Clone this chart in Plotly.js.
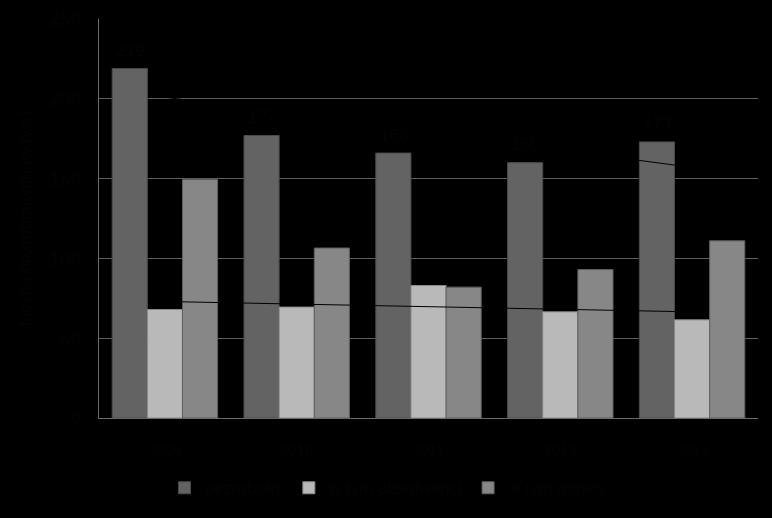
<!DOCTYPE html>
<html>
<head>
<meta charset="utf-8">
<script src="https://cdn.plot.ly/plotly-3.0.1.min.js"></script>
<style>html,body{margin:0;padding:0;background:#000;}</style>
</head>
<body>
<div id="chart" style="width:772px;height:518px;"></div>
<script>
const years = ['2009', '2010', '2011', '2012', '2013'];
const seriesNames = ['bezrobotni', 'w tym absolwenci', 'w tym rolnicy'];
const totalVals = [219, 177, 166, 160, 173];
const secondVals = [68, 69.5, 83, 66.5, 61.5];
const thirdVals = [149.5, 106.5, 82, 93, 111];
// trendline endpoints (first and last year)
const trendYears = ['2009', '2013'];
const totalTrend = [201, 157];
const secondTrend = [73, 66.5];
const yTicks = [0, 50, 100, 150, 200, 250];

const txt = '#040404';
const fam = 'Liberation Sans, Arial, sans-serif';

const traces = [
  {type: 'bar', name: seriesNames[0], x: years, y: totalVals,
   marker: {color: '#636363', line: {color: '#4a4a4a', width: 1}}},
  {type: 'bar', name: seriesNames[1], x: years, y: secondVals,
   marker: {color: '#b9b9b9', line: {color: '#8a8a8a', width: 1}}},
  {type: 'bar', name: seriesNames[2], x: years, y: thirdVals,
   marker: {color: '#878787', line: {color: '#5e5e5e', width: 1}}},
  {type: 'scatter', mode: 'lines', x: trendYears, y: totalTrend, showlegend: false,
   hoverinfo: 'skip', line: {color: '#000', width: 1}},
  {type: 'scatter', mode: 'lines', x: trendYears, y: secondTrend, showlegend: false,
   hoverinfo: 'skip', line: {color: '#000', width: 1}}
];

// value labels above the first series, positioned through the axes
const annotations = years.map((yr, i) => ({
  x: i, y: totalVals[i], xref: 'x', yref: 'y', text: String(totalVals[i]),
  showarrow: false, xshift: -35, yshift: 18,
  font: {family: fam, size: 17, color: txt}
}));

const layout = {
  width: 772, height: 518,
  paper_bgcolor: '#000', plot_bgcolor: '#000',
  margin: {l: 99, r: 14, t: 19, b: 96},
  font: {family: fam, size: 15, color: txt},
  barmode: 'group', bargap: 0.2, bargroupgap: 0,
  showlegend: true,
  annotations: annotations,
  legend: {orientation: 'h', x: 0.44, xanchor: 'center', y: -0.176, yanchor: 'middle',
           font: {family: fam, size: 17, color: txt}, traceorder: 'normal'},
  xaxis: {type: 'category', categoryarray: years, range: [-0.5, 4.5], autorange: false,
          showgrid: false, showline: true, linecolor: '#6a6a6a', linewidth: 1,
          ticks: '', tickfont: {family: fam, size: 15, color: txt}, ticklabelstandoff: 18,
          zeroline: false},
  yaxis: {range: [0, 250], autorange: false, tickvals: yTicks, showgrid: true, gridcolor: '#5c5c5c', gridwidth: 1,
          showline: true, linecolor: '#6a6a6a', linewidth: 1, zeroline: false, ticks: '',
          tickfont: {family: fam, size: 18, color: txt}, ticklabelstandoff: 14,
          title: {text: 'Liczba bezrobotnych (w tys.)', standoff: 14,
                  font: {family: fam, size: 17, color: txt}}}
};

Plotly.newPlot('chart', traces, layout, {displayModeBar: false, staticPlot: true});
</script>
</body>
</html>
